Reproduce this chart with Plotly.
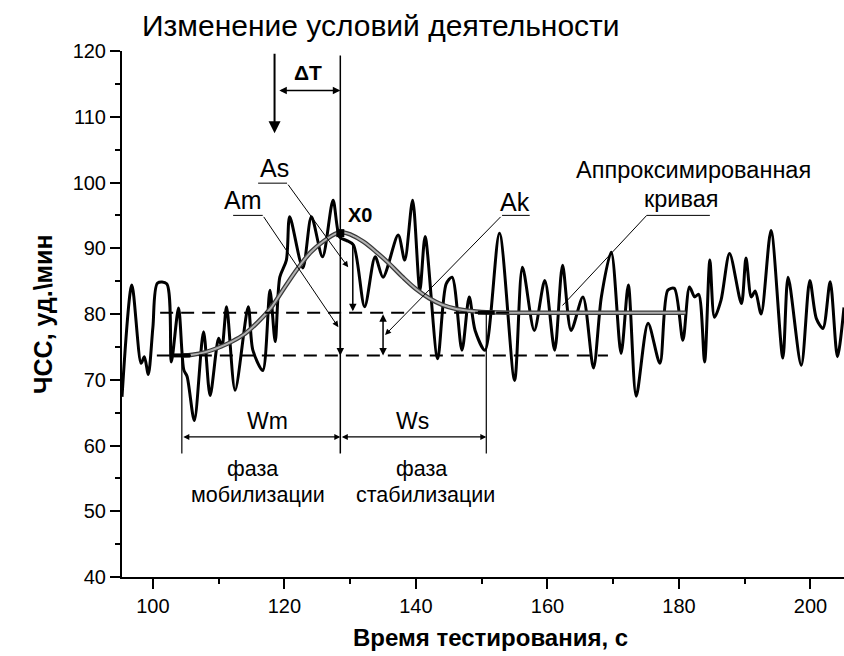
import plotly.graph_objects as go

# ---- data ----
time_s = [95.3, 96.8, 98.2, 98.7, 99.3, 100.0, 100.7, 102.1, 102.8, 103.9, 104.7, 105.2, 106.3,
          107.7, 108.7, 110.0, 110.5, 111.2, 112.5, 114.5, 115.2, 116.7, 117.8, 118.6, 119.3,
          120.3, 120.8, 122.8, 124.1, 125.8, 127.4, 128.4, 129.4, 130.5, 132.2, 133.8, 135.0,
          137.3, 138.3, 139.5, 140.6, 141.4, 143.3, 144.6, 145.5, 147.0, 148.1, 149.0, 150.5,
          152.7, 155.0, 156.2, 158.0, 159.6, 161.1, 162.3, 163.6, 165.4, 167.0, 168.2, 169.7,
          171.2, 172.3, 173.5, 175.3, 177.1, 178.3, 179.3, 180.6, 181.6, 182.4, 183.0, 183.9,
          184.7, 185.4, 186.4, 187.7, 189.5, 190.2, 191.0, 191.6, 192.5, 194.0, 195.8, 196.6,
          198.6, 199.9, 200.9, 201.9, 203.0, 204.1, 205.1]
hr = [67.4, 84.4, 72.5, 73.5, 70.8, 78.0, 84.7, 84.6, 72.7, 80.9, 71.5, 70.5, 63.8,
      77.3, 67.6, 76.3, 75.0, 81.1, 68.4, 81.1, 74.5, 71.4, 83.6, 75.8, 85.6,
      88.2, 94.8, 87.0, 94.8, 88.7, 97.3, 91.7, 91.2, 90.5, 81.1, 88.7, 85.6,
      92.0, 88.2, 97.3, 83.6, 91.8, 73.2, 84.6, 85.6, 74.5, 82.6, 77.5, 74.5,
      92.3, 69.9, 87.1, 77.5, 85.1, 74.5, 87.4, 77.5, 82.6, 71.8, 82.6, 89.4,
      74.0, 84.4, 67.5, 78.6, 72.5, 83.6, 83.9, 76.0, 84.1, 82.6, 83.0, 72.7,
      88.2, 79.5, 82.1, 89.2, 81.6, 88.5, 82.6, 83.5, 80.0, 92.7, 73.3, 85.6,
      72.2, 85.1, 79.3, 77.8, 84.9, 73.5, 81.0]

fit_time = [104.5, 106, 108, 110, 112, 114, 116, 118, 120, 122, 124, 126, 128, 129, 130,
            132, 134, 136, 138, 140, 142, 144, 146, 148, 150, 155, 160, 170, 181]
fit_hr = [73.7, 73.8, 74.2, 74.9, 75.8, 77.0, 78.8, 81.0, 84.0, 86.9, 89.4, 91.1, 92.3, 92.4, 92.1,
          91.0, 89.4, 87.6, 85.6, 83.8, 82.4, 81.4, 80.8, 80.5, 80.3, 80.2, 80.2, 80.2, 80.2]

BASE_MOB = 73.7      # baseline before load
BASE_STAB = 80.2     # stabilised level
X0 = 128.5           # peak time
PEAK_HR = 92.3
T_CHANGE = 118.5     # change of conditions
WM_START = 104.4
WS_END = 150.7

x_ticks = [100, 120, 140, 160, 180, 200]
y_ticks = [40, 50, 60, 70, 80, 90, 100, 110, 120]

FONT = "Liberation Sans"

fig = go.Figure()
fig.add_trace(go.Scatter(x=time_s, y=hr, mode="lines",
                         line=dict(color="black", width=3, shape="spline", smoothing=0.8),
                         hoverinfo="skip"))
fig.add_trace(go.Scatter(x=fit_time, y=fit_hr, mode="lines",
                         line=dict(color="#3a3a3a", width=4.5, shape="spline"), hoverinfo="skip"))
fig.add_trace(go.Scatter(x=fit_time, y=fit_hr, mode="lines",
                         line=dict(color="#b0b0b0", width=2, shape="spline"), hoverinfo="skip"))
fig.add_trace(go.Scatter(x=[X0], y=[PEAK_HR], mode="markers",
                         marker=dict(symbol="square", size=8, color="black"), hoverinfo="skip"))
fig.add_trace(go.Scatter(x=[WM_START, WS_END], y=[BASE_MOB, BASE_STAB], mode="markers",
                         marker=dict(symbol="line-ew", size=12, line=dict(width=4, color="black")),
                         hoverinfo="skip"))

shapes = []
def seg(x0, y0, x1, y1, width=1.5, dash=None):
    d = dict(type="line", xref="x", yref="y", x0=x0, y0=y0, x1=x1, y1=y1,
             line=dict(color="black", width=width))
    if dash:
        d["line"]["dash"] = dash
    shapes.append(d)

# dashed baselines
seg(100.6, BASE_MOB, 169.2, BASE_MOB, 2, "13px,8px")
seg(101.1, BASE_STAB, 155.0, BASE_STAB, 2, "13px,8px")
# X0 vertical line
seg(X0, 119.3, X0, 58.8, 1.5)
# phase boundaries
seg(WM_START, BASE_MOB, WM_START, 58.8, 1.2)
seg(WS_END, BASE_STAB, WS_END, 58.8, 1.2)
# label underlines
seg(116.0, 99.9, 120.4, 99.9, 1)
seg(112.2, 95.0, 116.7, 95.0, 1)
seg(153.1, 95.0, 157.3, 95.0, 1)
seg(175.1, 95.0, 184.7, 95.0, 1)
# leader without arrow (approximated curve)
seg(175.1, 95.0, 162.3, 81.3, 1)

ann = []
def arrow(xh, yh, xt, yt, width=1.5, both=False, head=2, size=1.0):
    ann.append(dict(x=xh, y=yh, ax=xt, ay=yt, xref="x", yref="y", axref="x", ayref="y",
                    text="", showarrow=True, arrowhead=head, startarrowhead=head,
                    arrowsize=size, startarrowsize=size, arrowwidth=width,
                    arrowcolor="black", arrowside="end+start" if both else "end"))

def label(x, y, text, size=20, bold=False):
    ann.append(dict(x=x, y=y, xref="x", yref="y", text=("<b>%s</b>" % text) if bold else text,
                    showarrow=False, font=dict(family=FONT, size=size, color="black")))

# change of conditions arrow
arrow(T_CHANGE, 107.5, T_CHANGE, 119.8, width=2, head=2, size=1.2)
# delta T
arrow(X0, 114.0, 119.0, 114.0, width=1.5, both=True)
label(123.6, 116.8, "ΔT", 21, True)
# amplitudes
arrow(X0, BASE_MOB, X0, BASE_STAB, width=1.5)
arrow(130.4, BASE_STAB + 0.2, 130.4, 91.0, width=1.5)
arrow(135.0, BASE_MOB, 135.0, BASE_STAB, width=1.5, both=True)
# leaders
arrow(129.7, 87.1, 120.4, 99.9, width=1, head=2, size=1.2)
arrow(128.2, 78.0, 116.7, 95.0, width=1, head=2, size=1.2)
arrow(135.3, 76.8, 153.1, 95.0, width=1, head=2, size=1.2)
# Wm / Ws
arrow(X0, 61.3, WM_START, 61.3, width=1.2, both=True)
arrow(WS_END, 61.3, X0, 61.3, width=1.2, both=True)

label(118.5, 102.2, "As", 25)
label(113.7, 97.3, "Am", 25)
label(155.0, 97.0, "Ak", 25)
label(131.5, 95.0, "X0", 20, True)
label(182.2, 101.9, "Аппроксимированная", 23.5)
label(180.4, 97.55, "кривая", 23.5)
label(117.4, 63.8, "Wm", 23)
label(139.5, 63.8, "Ws", 23)
label(115.2, 56.4, "фаза", 21.5)
label(116.0, 52.4, "мобилизации", 21.5)
label(140.85, 56.4, "фаза", 21.5)
label(141.5, 52.4, "стабилизации", 21.5)

# title and axis titles
ann.append(dict(x=(140 - 122) / 722, y=1 + (50.7 - 25.6) / 526, xref="paper", yref="paper",
                xanchor="left", yanchor="middle", showarrow=False,
                text="Изменение условий деятельности",
                font=dict(family=FONT, size=30, color="black")))
ann.append(dict(x=(27 - 122) / 722, y=0.5, xref="paper", yref="paper", textangle=-90,
                showarrow=False, text="<b>ЧСС, уд.\\мин</b>",
                font=dict(family=FONT, size=25, color="black")))
ann.append(dict(x=(490 - 122) / 722, y=-(637 - 576.7) / 526, xref="paper", yref="paper",
                showarrow=False, yanchor="middle", text="<b>Время тестирования, с</b>",
                font=dict(family=FONT, size=24, color="black")))

fig.update_layout(
    width=844, height=656,
    margin=dict(l=122, r=0, t=51, b=79),
    plot_bgcolor="white", paper_bgcolor="white",
    showlegend=False,
    shapes=shapes, annotations=ann,
    font=dict(family=FONT, size=20, color="black"),
)
fig.update_xaxes(range=[95.3, 205.1], tickvals=x_ticks, ticks="outside", ticklen=10, tickwidth=2,
                 tickcolor="black", showline=True, linecolor="black", linewidth=2,
                 showgrid=False, zeroline=False,
                 minor=dict(dtick=10, tick0=0, ticks="outside", ticklen=5, tickwidth=1.5, tickcolor="black"),
                 tickfont=dict(family=FONT, size=20))
fig.update_yaxes(range=[40, 120], tickvals=y_ticks, ticks="outside", ticklen=10, tickwidth=2,
                 tickcolor="black", showline=True, linecolor="black", linewidth=2,
                 showgrid=False, zeroline=False,
                 minor=dict(dtick=5, tick0=0, ticks="outside", ticklen=5, tickwidth=1.5, tickcolor="black"),
                 tickfont=dict(family=FONT, size=20))

fig.write_html("out.html")
